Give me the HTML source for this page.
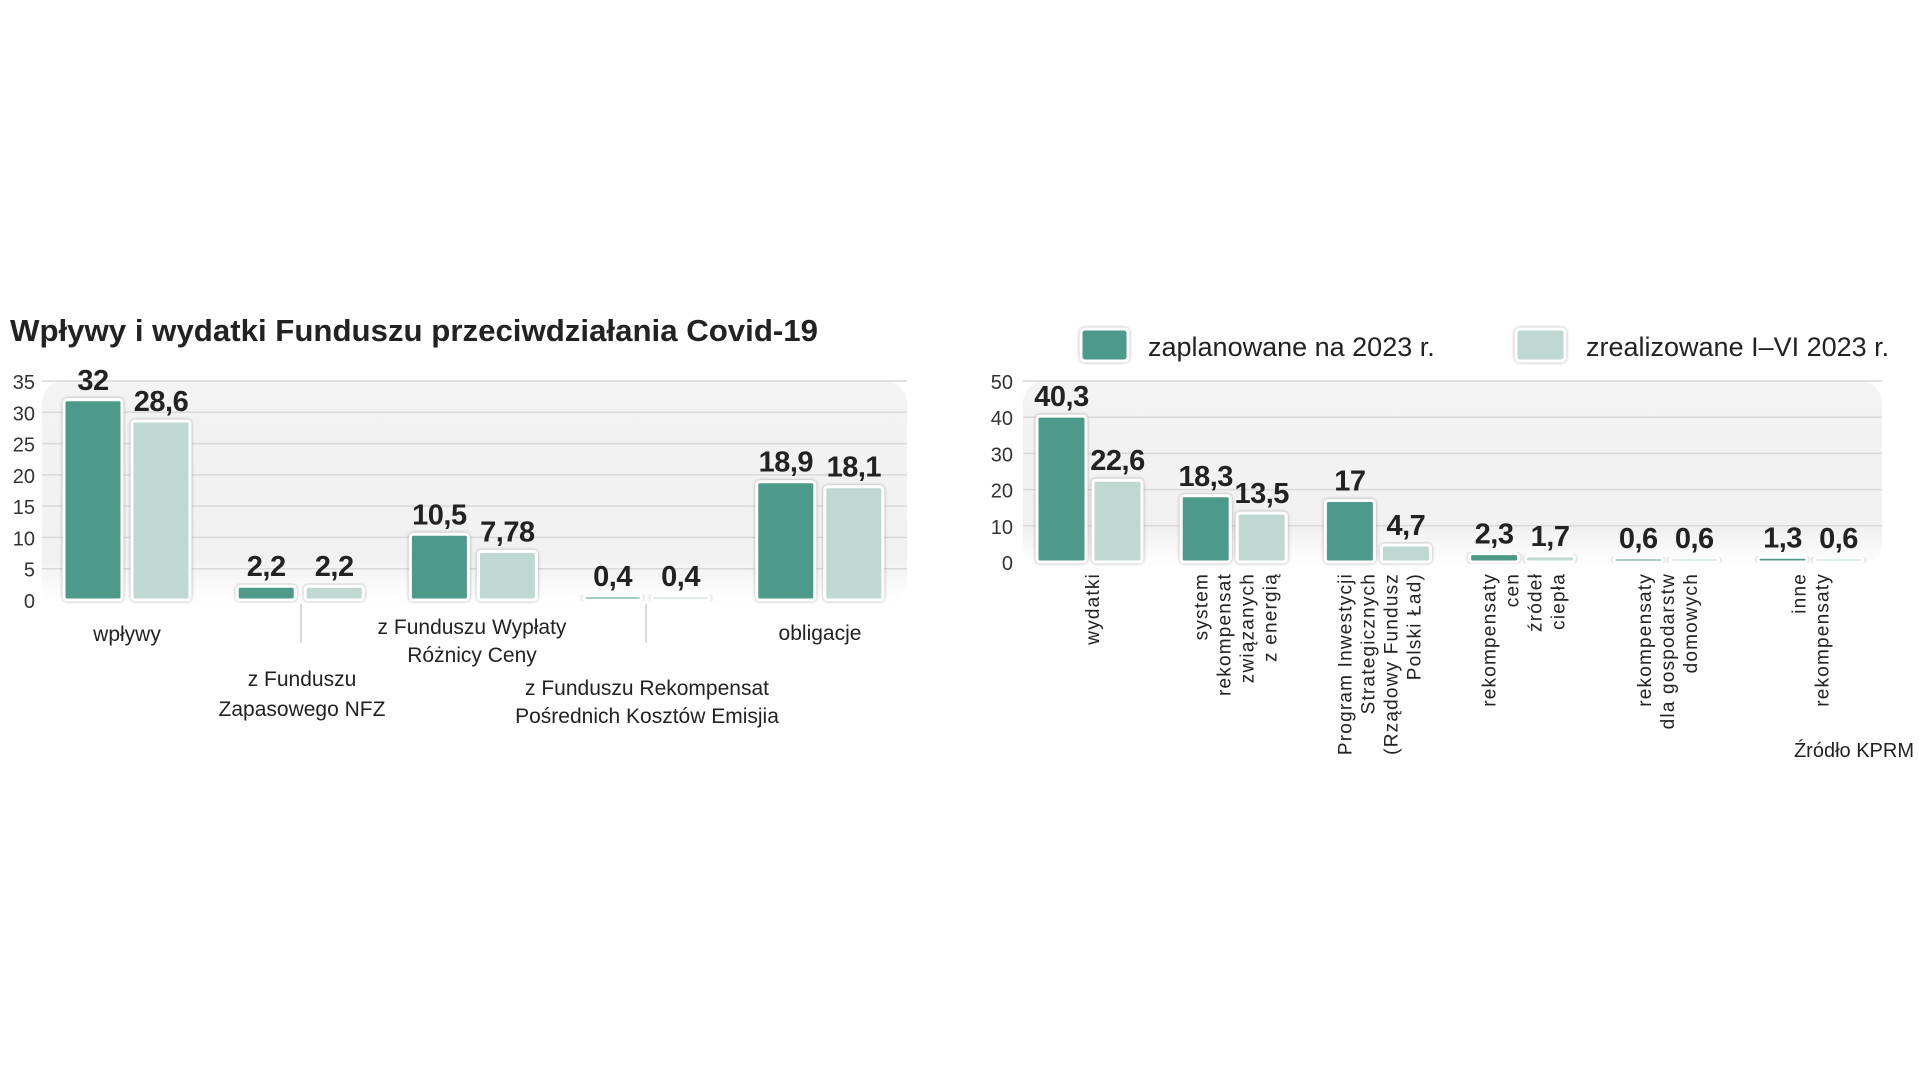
<!DOCTYPE html>
<html><head><meta charset="utf-8"><style>
html,body{margin:0;padding:0;background:#fff;}
svg{display:block;font-family:"Liberation Sans",sans-serif;}
.tick{font-size:20px;fill:#333;}
.val{font-family:"Liberation Sans Narrow","Liberation Sans",sans-serif;font-weight:bold;font-size:29px;fill:#222;letter-spacing:-0.5px;}
.cat{font-size:21px;fill:#222;}
.rot{font-size:19px;fill:#222;letter-spacing:1.2px;}
</style></head><body>
<svg id="chart" width="1919" height="1080" viewBox="0 0 1919 1080">
<defs>
<linearGradient id="bgG" x1="0" y1="0" x2="0" y2="1"><stop offset="0" stop-color="#f3f3f3"/><stop offset="0.8" stop-color="#f1f1f1"/><stop offset="1" stop-color="#ffffff"/></linearGradient>
<filter id="sh" x="-20%" y="-20%" width="140%" height="140%"><feDropShadow dx="0" dy="0" stdDeviation="1.5" flood-color="#000" flood-opacity="0.35"/></filter>
</defs>
<text x="10" y="341" font-size="31" font-weight="bold" fill="#222" textLength="808" lengthAdjust="spacingAndGlyphs">Wpływy i wydatki Funduszu przeciwdziałania Covid-19</text>
<g id="left"></g>
<g id="right"></g>
<g>
<rect x="1081" y="329" width="47" height="32" rx="4" fill="#4e9a8a" stroke="#fff" stroke-width="3" filter="url(#sh)"/>
<text x="1148" y="356" font-size="27" fill="#222">zaplanowane na 2023 r.</text>
<rect x="1516" y="329" width="49" height="32" rx="4" fill="#bfd9d2" stroke="#fff" stroke-width="3" filter="url(#sh)"/>
<text x="1586" y="356" font-size="27" fill="#222">zrealizowane I–VI 2023 r.</text>
</g>
<text x="1914" y="757" text-anchor="end" font-size="20" fill="#222">Źródło KPRM</text>
</svg>
<script>
// Left chart data
const leftCategories = ["wpływy","z Funduszu Zapasowego NFZ","z Funduszu Wypłaty Różnicy Ceny","z Funduszu Rekompensat Pośrednich Kosztów Emisjia","obligacje"];
const leftPlanned = [32, 2.2, 10.5, 0.4, 18.9];
const leftRealized = [28.6, 2.2, 7.78, 0.4, 18.1];
const leftPlannedLabels = ["32","2,2","10,5","0,4","18,9"];
const leftRealizedLabels = ["28,6","2,2","7,78","0,4","18,1"];
const leftTicks = [0,5,10,15,20,25,30,35];
// Right chart data
const rightCategories = ["wydatki","system rekompensat związanych z energią","Program Inwestycji Strategicznych (Rządowy Fundusz Polski Ład)","rekompensaty cen źródeł ciepła","rekompensaty dla gospodarstw domowych","inne rekompensaty"];
const rightPlanned = [40.3, 18.3, 17, 2.3, 0.6, 1.3];
const rightRealized = [22.6, 13.5, 4.7, 1.7, 0.6, 0.6];
const rightPlannedLabels = ["40,3","18,3","17","2,3","0,6","1,3"];
const rightRealizedLabels = ["22,6","13,5","4,7","1,7","0,6","0,6"];
const rightTicks = [0,10,20,30,40,50];

const NS="http://www.w3.org/2000/svg";
function mk(parent,tag,attrs,text){const e=document.createElementNS(NS,tag);for(const k in attrs)e.setAttribute(k,attrs[k]);if(text!==undefined)e.textContent=text;parent.appendChild(e);return e;}

// LEFT
(function(){
 const g=document.getElementById('left');
 const y0=600, yTop=381, vMax=35;
 const y=v=>y0-(v/vMax)*(y0-yTop);
 const gx0=64, gStep=173.2, bw=58, gap=10;
 const bg=mk(g,'rect',{x:42,y:381,width:865,height:222,rx:22,fill:'url(#bgG)'});
 
 
 leftTicks.forEach(t=>{
  if(t>0){const l=mk(g,'line',{x1:42,x2:907,y1:y(t),y2:y(t),stroke:'#d9d9d9','stroke-width':1.5});
  
  }
  const tx=mk(g,'text',{x:35,y:y(t)+8,'text-anchor':'end',class:'tick'},String(t));
  
  
 });
 leftCategories.forEach((c,i)=>{
  const x1=gx0+i*gStep, x2=x1+bw+gap;
  [[x1,leftPlanned[i],'#4e9a8a',leftPlannedLabels[i],'planned'],[x2,leftRealized[i],'#bfd9d2',leftRealizedLabels[i],'realized']].forEach(b=>{
   const h=Math.max(y0-y(b[1]),4);
   const r=mk(g,'rect',{x:b[0],y:y0-h,width:bw,height:h,rx:3,fill:b[2],stroke:'#fff','stroke-width':3,filter:'url(#sh)'});
   
   
   const t=mk(g,'text',{x:b[0]+bw/2,y:y0-h-10,'text-anchor':'middle',class:'val'},b[3]);
   
   
  });
 });
 const catPos=[[127,[634],['wpływy']],[302,[679,709],['z Funduszu','Zapasowego NFZ']],[472,[627,655],['z Funduszu Wypłaty','Różnicy Ceny']],[647,[688,716],['z Funduszu Rekompensat','Pośrednich Kosztów Emisjia']],[820,[633],['obligacje']]];
 catPos.forEach(p=>{p[2].forEach((s,j)=>{
  const t=mk(g,'text',{x:p[0],y:p[1][j]+7,'text-anchor':'middle',class:'cat'},s);
  
  
 });});
 [301,646].forEach(x=>{const l=mk(g,'line',{x1:x,x2:x,y1:604,y2:643,stroke:'#ccc','stroke-width':1.5});
  
  });
})();

// RIGHT
(function(){
 const g=document.getElementById('right');
 const y0=562, yTop=381, vMax=50;
 const y=v=>y0-(v/vMax)*(y0-yTop);
 const gx0=1037, gStep=144.2, bw=49, gap=7;
 const bg=mk(g,'rect',{x:1023,y:381,width:859,height:185,rx:22,fill:'url(#bgG)'});
 
 
 rightTicks.forEach(t=>{
  if(t>0){const l=mk(g,'line',{x1:1023,x2:1882,y1:y(t),y2:y(t),stroke:'#d9d9d9','stroke-width':1.5});
  
  }
  const tx=mk(g,'text',{x:1013,y:y(t)+8,'text-anchor':'end',class:'tick'},String(t));
  
  
 });
 rightCategories.forEach((c,i)=>{
  const x1=gx0+i*gStep, x2=x1+bw+gap;
  [[x1,rightPlanned[i],'#4e9a8a',rightPlannedLabels[i],'planned'],[x2,rightRealized[i],'#bfd9d2',rightRealizedLabels[i],'realized']].forEach(b=>{
   const h=Math.max(y0-y(b[1]),4);
   const r=mk(g,'rect',{x:b[0],y:y0-h,width:bw,height:h,rx:3,fill:b[2],stroke:'#fff','stroke-width':3,filter:'url(#sh)'});
   
   
   const t=mk(g,'text',{x:b[0]+bw/2,y:y0-h-10,'text-anchor':'middle',class:'val'},b[3]);
   
   
  });
 });
 const rot=[[1092,['wydatki']],[1235,['system','rekompensat','związanych','z energią']],[1379,['Program Inwestycji','Strategicznych','(Rządowy Fundusz','Polski Ład)']],[1523,['rekompensaty','cen','źródeł','ciepła']],[1667,['rekompensaty','dla gospodarstw','domowych']],[1810,['inne','rekompensaty']]];
 rot.forEach(p=>{const n=p[1].length;p[1].forEach((s,j)=>{
  const x=p[0]+(j-(n-1)/2)*23+7;
  const t=mk(g,'text',{x:x,y:573,'text-anchor':'end',class:'rot',transform:'rotate(-90 '+x+' 573)'},s);
  
  
 });});
})();
</script>
</body></html>
